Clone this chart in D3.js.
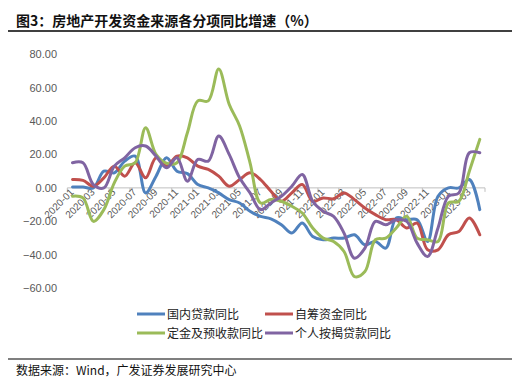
<!DOCTYPE html>
<html>
<head>
<meta charset="utf-8">
<script src="https://cdn.jsdelivr.net/npm/d3@7"></script>
<style>
  body { margin: 0; background: #fff; }
  text { font-family: "Liberation Sans", Arial, "Noto Sans CJK SC", sans-serif; }
  .cjk { font-family: "Noto Sans CJK SC", sans-serif; }
</style>
</head>
<body>
<div id="wrapper"></div>
<script>
// months 2020-01 .. 2023-04
const months = [
  "2020-01","2020-02","2020-03","2020-04","2020-05","2020-06","2020-07","2020-08","2020-09","2020-10","2020-11","2020-12",
  "2021-01","2021-02","2021-03","2021-04","2021-05","2021-06","2021-07","2021-08","2021-09","2021-10","2021-11","2021-12",
  "2022-01","2022-02","2022-03","2022-04","2022-05","2022-06","2022-07","2022-08","2022-09","2022-10","2022-11","2022-12",
  "2023-01","2023-02","2023-03","2023-04"
];

const domesticLoans = [0.5, 0.5, 0, 10, 9, 16, 19, -3, 7, 18, 10, 8.5,
  2, 0, -3, -7, -9, -14, -17, -18.5, -22, -27, -21, -29,
  -31, -30, -30, -28, -34, -32, -36, -18, -19, -19, -32, -5,
  0, 0, 5, -13];
const selfRaised = [5, 4.5, 1, 6, 13, 7, 15, 6, 18, 13, 19, 18,
  13, 11, 7, 1, 5, 9, 5, -2, -8, -3, 2, -8,
  -6, -6.5, -3, -7, -12, -16, -19, -19, -24, -21, -37, -37,
  -28, -26, -18, -28];
const deposits = [-5, -6, -20, -13, 3, 13, 15, 36, 20, 14.7, 15, 33,
  52, 52, 71, 50, 37, 15, -9, -7, -8, -11, -15, -24,
  -30, -32, -38, -53, -50, -31, -30, -24, -17, -30, -31, -32,
  -9, -8, 10, 29];
const mortgages = [15, 15, 2, 0, 13, 18, 24, 25, 19, 12, 18, 4,
  17, 16, 31, 20, 6, -3, -13, -9, -5, 1, 8, -8,
  -14, -17, -27, -42, -36, -20, -22, -19, -20, -33, -41, -24,
  -5, -3, 21, 21];

const seriesNames = ["国内贷款同比", "自筹资金同比", "定金及预收款同比", "个人按揭贷款同比"];
const seriesColors = ["#4F81BD", "#C0504D", "#9BBB59", "#8064A2"];
const yTicks = [80, 60, 40, 20, 0, -20, -40, -60];

const title = "图3：房地产开发资金来源各分项同比增速（%）";
const source = "数据来源：Wind，广发证券发展研究中心";

const allSeries = [domesticLoans, selfRaised, deposits, mortgages];

const width = 525, height = 386;

const svg = d3.select("#wrapper").append("svg")
  .attr("width", width)
  .attr("height", height);

// title + rules
svg.append("text")
  .attr("class", "cjk")
  .attr("x", 16)
  .attr("y", 26)
  .attr("font-size", 14)
  .attr("font-weight", "bold")
  .attr("fill", "#111")
  .text(title);

svg.append("line")
  .attr("x1", 8).attr("x2", 512)
  .attr("y1", 31).attr("y2", 31)
  .attr("stroke", "#000").attr("stroke-width", 1.5);

svg.append("line")
  .attr("x1", 8).attr("x2", 512)
  .attr("y1", 359).attr("y2", 359)
  .attr("stroke", "#000").attr("stroke-width", 1.2);

svg.append("text")
  .attr("class", "cjk")
  .attr("x", 16)
  .attr("y", 375)
  .attr("font-size", 12)
  .attr("fill", "#111")
  .text(source);

// scales
const xScale = d3.scaleBand()
  .domain(months)
  .range([67.3, 485])
  .paddingInner(0)
  .paddingOuter(0);
const xc = d => xScale(d) + xScale.bandwidth() / 2;

const yScale = d3.scaleLinear()
  .domain([-60, 80])
  .range([288.3, 54]);

// y axis labels
const yAxis = svg.append("g")
  .attr("transform", "translate(60,0)")
  .call(d3.axisLeft(yScale).tickValues(yTicks).tickFormat(d3.format(".2f")).tickSize(0).tickPadding(3));
yAxis.select(".domain").remove();
yAxis.selectAll("text")
  .attr("font-family", "'Liberation Sans', Arial, sans-serif")
  .attr("font-size", 11)
  .attr("fill", "#595959");

// zero line + ticks
const y0 = yScale(0);
svg.append("line")
  .attr("x1", xScale.range()[0]).attr("x2", xScale.range()[1])
  .attr("y1", y0).attr("y2", y0)
  .attr("stroke", "#BFBFBF").attr("stroke-width", 1);

const labelled = months.filter((d, i) => i % 2 === 0);
svg.append("g").selectAll("line")
  .data(labelled.concat(["end"]))
  .enter().append("line")
  .attr("x1", d => d === "end" ? xScale.range()[1] : xScale(d))
  .attr("x2", d => d === "end" ? xScale.range()[1] : xScale(d))
  .attr("y1", y0).attr("y2", y0 + 4)
  .attr("stroke", "#BFBFBF");

svg.append("g").selectAll("text")
  .data(labelled)
  .enter().append("text")
  .attr("transform", d => `translate(${xc(d) + 2},${y0 + 5}) rotate(-45)`)
  .attr("text-anchor", "end")
  .attr("font-size", 10)
  .attr("fill", "#595959")
  .text(d => d);

// lines
const lineGen = d3.line()
  .x((d, i) => xc(months[i]))
  .y(d => yScale(d))
  .curve(d3.curveCatmullRom.alpha(0.5));

svg.append("g").selectAll("path")
  .data(allSeries)
  .enter().append("path")
  .attr("d", d => lineGen(d))
  .attr("fill", "none")
  .attr("stroke", (d, i) => seriesColors[i])
  .attr("stroke-width", 3)
  .attr("stroke-linejoin", "round")
  .attr("stroke-linecap", "round");

// legend
const legendPos = [[137, 314], [265, 314], [137, 333], [265, 333]];
const legend = svg.append("g").selectAll("g")
  .data(seriesNames)
  .enter().append("g")
  .attr("transform", (d, i) => `translate(${legendPos[i][0]},${legendPos[i][1]})`);

legend.append("line")
  .attr("x1", 0).attr("x2", 28)
  .attr("y1", 0).attr("y2", 0)
  .attr("stroke", (d, i) => seriesColors[i])
  .attr("stroke-width", 3);

legend.append("text")
  .attr("class", "cjk")
  .attr("x", 30)
  .attr("y", 4.5)
  .attr("font-size", 12)
  .attr("fill", "#222")
  .text(d => d);
</script>
</body>
</html>
